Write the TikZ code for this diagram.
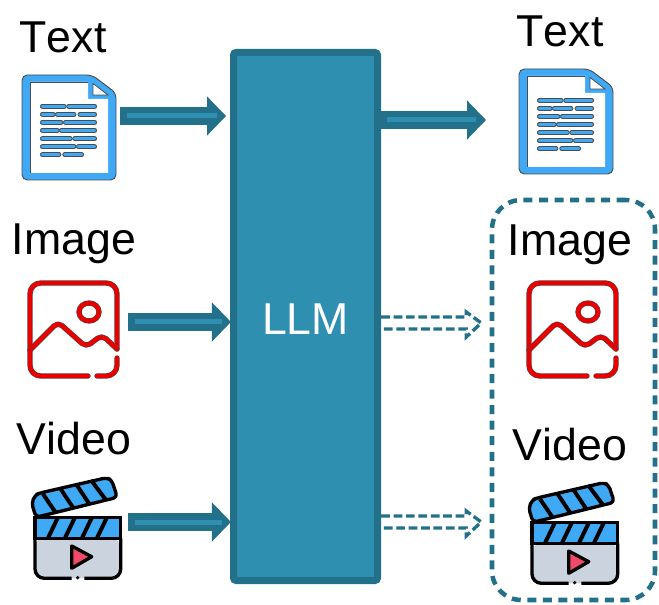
\documentclass[tikz,border=0pt]{standalone}
\usepackage{fontspec}
\setmainfont[Kerning=Off]{Liberation Sans}
\usetikzlibrary{positioning}
\usetikzlibrary{calc}
\usetikzlibrary{arrows.meta}
\definecolor{llmdark}{HTML}{22708A}
\definecolor{llmfill}{HTML}{2E8FB0}
\definecolor{iconblue}{HTML}{3FA9F5}
\definecolor{icongray}{HTML}{CBD3DF}
\definecolor{iconred}{HTML}{E80000}
\definecolor{playred}{HTML}{F2496B}

\begin{document}
\begin{tikzpicture}[
    x=0.75pt, y=-0.75pt,
    LLMBox/.style={rectangle, draw=llmdark, fill=llmfill, line width=5.25pt, rounded corners=2pt, outer sep=0pt, minimum width=108pt, minimum height=396pt, text=white, font=\fontsize{33.5}{36}\selectfont, text height=27.4pt},
    Label/.style={anchor=base, inner sep=0pt, text=black, font=\fontsize{33.5}{36}\selectfont},
    IconBox/.style={rectangle, inner sep=0pt, outer sep=0pt, minimum height=10pt},
    OutGroup/.style={rectangle, draw=llmdark, line width=3.4pt, rounded corners=22pt, dash pattern=on 6.75pt off 4.9pt, outer sep=0pt, minimum width=122.25pt, minimum height=300pt},
    flow/.style={draw=llmdark, line width=13.5pt, -{Triangle[length=14.25pt, width=28.5pt]}},
    flowcore/.style={draw=llmfill, line width=3.75pt},
    dashflow/.style={draw=llmdark, line width=2.5pt, dash pattern=on 6.5pt off 2.8pt},
    docpic/.pic={
        \draw[draw=black!70, fill=iconblue, line width=0.7pt, rounded corners=4pt] (0,0) -- (70,0) -- (94,18) -- (94,105) -- (0,105) -- cycle;
        \fill[white] (8,7) -- (66,7) -- (66,24) -- (86,24) -- (86,98) -- (8,98) -- cycle;
        \draw[draw=black!70, line width=0.6pt] (8,98) -- (8,7) -- (66,7);
        \draw[draw=black!70, fill=white, line width=0.6pt] (71,8.5) -- (86,20) -- (71,20) -- cycle;
        \foreach \xa/\xb/\ya in {20.3/42.3/31.3, 46.7/72.7/31.3,
                                 20.3/31.3/39.3, 35.3/52/39.3, 58/72.7/39.3,
                                 20.3/39/47.3, 43.3/72.7/47.3,
                                 20.3/35.3/55.3, 39.3/72.7/55.3,
                                 20.3/48.3/63.7, 52.7/72.7/63.7,
                                 20.3/52/71.7, 56.3/72.7/71.7,
                                 20.3/37/79.7, 42.7/59.7/79.7} {
            \draw[line cap=round, draw=black!70, line width=3.6pt] (\xa,\ya) -- (\xb,\ya);
            \draw[line cap=round, draw=iconblue, line width=2.5pt] (\xa,\ya) -- (\xb,\ya);
        }
    },
    imagepic/.pic={
        \tikzset{redline/.style={draw=black!70, line width=0.4pt, double=iconred, double distance=3.2pt, line cap=round, line join=round}}
        \draw[redline, rounded corners=8pt] (2,69) -- (2,2) -- (89,2) -- (89,68);
        \draw[redline, rounded corners=4pt] (2,69) -- (30,41) -- (58,66) -- (74,54) -- (89,68);
        \draw[redline, rounded corners=8pt] (2,69) -- (2,95) -- (60,95);
        \draw[redline, rounded corners=8pt] (69,95) -- (89,95) -- (89,77);
        \draw[redline] (61,31) ellipse (10 and 9);
    },
    clapperpic/.pic={
        \draw[draw=black, fill=iconblue, line width=2.5pt, line join=round, rounded corners=3pt] (6,47.3) -- (1.7,33.3) -- (5,25) -- (10,23) -- (76.7,7.7) -- (81.7,10) -- (87.3,27.3) -- cycle;
        \draw[draw=black, line width=3pt] (13,24) -- (26,43) (30,18) -- (44,39) (46,14) -- (60,35) (61,10) -- (76,30);
        \fill[icongray, rounded corners=7pt] (5,68) -- (5,108.3) -- (90.7,108.3) -- (90.7,68) -- cycle;
        \draw[draw=black, line width=2.5pt, rounded corners=7pt] (5,68.3) -- (5,108.3) -- (41.7,108.3);
        \draw[draw=black, line width=2.5pt, rounded corners=7pt] (54.3,108.3) -- (90.7,108.3) -- (90.7,68.3);
        \fill[black] (47.7,107.7) circle (1.8);
        \draw[draw=black, fill=iconblue, line width=2.5pt] (5,47.3) rectangle (90.7,68.3);
        \draw[draw=black, line width=3pt] (18,68) -- (28,47.3) (35,68) -- (45,47.3) (52,68) -- (62,47.3) (67,68) -- (77,47.3);
        \draw[draw=black, fill=playred, line width=2.5pt, line join=round] (41.7,76) -- (61.7,86.7) -- (41.7,98.3) -- cycle;
    },
    ]
        \useasboundingbox (0,0) rectangle (659,605);

        \node[LLMBox] (LLM) at (305.5,316.5) {LLM};

        \node[Label] (TextInLabel) at (63,53) {Text};
        \node[Label] (ImageInLabel) at (74,255) {Image};
        \node[Label] (VideoInLabel) at (74,454) {Video};
        \node[Label] (TextOutLabel) at (560,47) {Text};
        \node[Label] (ImageOutLabel) at (570,256) {Image};
        \node[Label] (VideoOutLabel) at (570,460) {Video};

        \node[IconBox, minimum width=70.5pt] (TextIn) at (69,116) {};
        \node[IconBox, minimum width=68.25pt] (ImageIn) at (73.5,322) {};
        \node[IconBox, minimum width=64.5pt] (VideoIn) at (78,522) {};
        \node[IconBox, minimum width=70.5pt] (TextOut) at (566,120) {};
        \node[IconBox, minimum width=68.25pt] (ImageOut) at (572,323) {};
        \node[IconBox, minimum width=64.5pt] (VideoOut) at (575,522) {};

        \pic at (22,75) {docpic};
        \pic at (519,69) {docpic};
        \pic at (28,281) {imagepic};
        \pic at (527,281) {imagepic};
        \pic at (30,470) {clapperpic};
        \pic at (527,475) {clapperpic};

        \node[OutGroup] (OutBox) at (573.5,400) {};

        \draw[flow, shorten <=3pt, shorten >=5.6pt] (TextIn.east) -- (TextIn.east -| LLM.west);
        \draw[flowcore, shorten <=8.25pt, shorten >=12.4pt] (TextIn.east) -- (TextIn.east -| LLM.west);
        \draw[flow, shorten <=6.75pt, shorten >=1.9pt] (ImageIn.east) -- (ImageIn.east -| LLM.west);
        \draw[flowcore, shorten <=12pt, shorten >=8.6pt] (ImageIn.east) -- (ImageIn.east -| LLM.west);
        \draw[flow, shorten <=5.25pt, shorten >=1.9pt] (VideoIn.east) -- (VideoIn.east -| LLM.west);
        \draw[flowcore, shorten <=10.5pt, shorten >=8.6pt] (VideoIn.east) -- (VideoIn.east -| LLM.west);
        \draw[flow, shorten >=24.75pt] (TextOut.west -| LLM.east) -- (TextOut.west);
        \draw[flowcore, shorten <=7pt, shorten >=32pt] (TextOut.west -| LLM.east) -- (TextOut.west);

        \draw[dashflow] ([xshift=2.8pt, yshift=4.5pt]ImageOut.west -| LLM.east) -- ++(85,0) -- ++(0,-5) -- ++(15,11) -- ++(-15,14) -- ++(0,-8) -- ++(-85,0);
        \draw[dashflow] ([xshift=2.8pt, yshift=4.5pt]VideoOut.west -| LLM.east) -- ++(85,0) -- ++(0,-5) -- ++(15,11) -- ++(-15,14) -- ++(0,-8) -- ++(-85,0);
    \end{tikzpicture}
\end{document}
